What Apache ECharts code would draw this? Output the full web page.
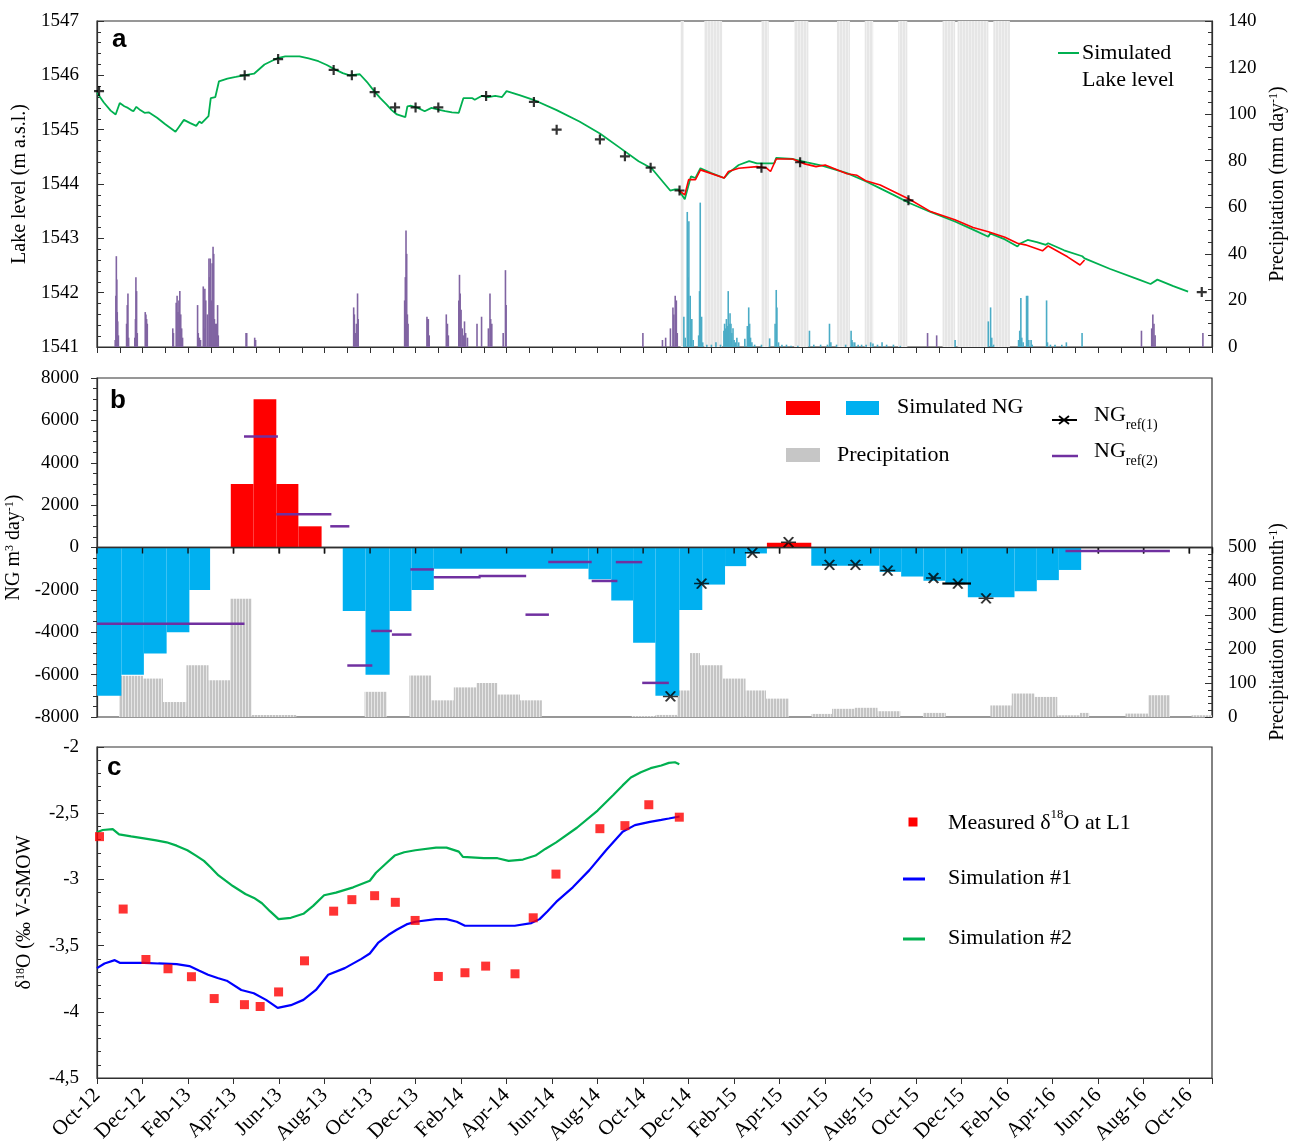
<!DOCTYPE html>
<html><head><meta charset="utf-8">
<script src="https://cdn.jsdelivr.net/npm/echarts@6/dist/echarts.min.js"></script>
<style>html,body{margin:0;padding:0;background:#fff}#c{width:1295px;height:1147px}</style>
</head><body><div id="c"></div>
<script>
// ---------- DATA (x in months since 1 Oct 2012) ----------
const xTickLabels = ['Oct-12','Dec-12','Feb-13','Apr-13','Jun-13','Aug-13','Oct-13','Dec-13','Feb-14','Apr-14','Jun-14','Aug-14','Oct-14','Dec-14','Feb-15','Apr-15','Jun-15','Aug-15','Oct-15','Dec-15','Feb-16','Apr-16','Jun-16','Aug-16','Oct-16'];

// panel a: simulated lake level (green)
const lakeSim = [[0,1545.68],[0.3,1545.5],[0.6,1545.35],[0.82,1545.28],[1.0,1545.49],[1.2,1545.43],[1.36,1545.4],[1.5,1545.36],[1.6,1545.34],[1.73,1545.42],[1.9,1545.36],[2.09,1545.31],[2.27,1545.32],[2.64,1545.22],[3.0,1545.1],[3.45,1544.96],[3.6,1545.05],[3.82,1545.18],[4.1,1545.12],[4.36,1545.07],[4.5,1545.15],[4.6,1545.12],[4.9,1545.25],[5.0,1545.58],[5.2,1545.6],[5.36,1545.89],[5.73,1545.94],[6.1,1545.97],[6.45,1546.0],[6.9,1546.03],[7.36,1546.2],[7.9,1546.31],[8.27,1546.35],[8.9,1546.35],[9.3,1546.31],[9.73,1546.26],[10.1,1546.19],[10.45,1546.11],[10.8,1546.04],[11.1,1546.0],[11.55,1546.02],[11.9,1545.86],[12.18,1545.71],[12.45,1545.58],[12.73,1545.46],[12.95,1545.36],[13.18,1545.28],[13.55,1545.23],[13.64,1545.43],[13.8,1545.44],[14.1,1545.4],[14.4,1545.34],[14.7,1545.4],[15.0,1545.37],[15.3,1545.34],[15.6,1545.32],[15.9,1545.31],[16.1,1545.58],[16.5,1545.58],[16.6,1545.55],[16.9,1545.62],[17.2,1545.6],[17.5,1545.62],[17.8,1545.6],[18.0,1545.71],[18.6,1545.63],[19.18,1545.55],[20.2,1545.36],[21.2,1545.15],[22.1,1544.93],[23.0,1544.66],[23.8,1544.42],[24.37,1544.29],[25.19,1543.88],[25.4,1543.9],[25.55,1543.9],[25.83,1543.72],[25.92,1543.86],[26.1,1544.14],[26.3,1544.11],[26.52,1544.29],[27.0,1544.2],[27.56,1544.11],[27.75,1544.2],[28.2,1544.35],[28.66,1544.42],[29.0,1544.38],[29.76,1544.38],[29.85,1544.48],[30.58,1544.46],[31.2,1544.4],[31.86,1544.34],[32.96,1544.2],[33.78,1544.05],[34.42,1543.92],[35.0,1543.8],[35.7,1543.65],[36.6,1543.49],[37.7,1543.31],[38.5,1543.16],[39.17,1543.03],[39.25,1543.09],[39.9,1542.98],[40.45,1542.85],[40.55,1542.9],[40.9,1542.97],[41.3,1542.93],[41.7,1542.88],[41.8,1542.91],[42.5,1542.78],[43.3,1542.67],[43.4,1542.63],[44.5,1542.44],[45.85,1542.23],[46.3,1542.16],[46.6,1542.24],[47.3,1542.12],[47.95,1542.02]];
// panel a: second simulated lake level (red)
const lakeSimRed = [[25.55,1543.89],[25.83,1543.8],[26.0,1544.08],[26.3,1544.08],[26.52,1544.26],[27.56,1544.11],[27.75,1544.23],[28.2,1544.29],[29.0,1544.32],[29.4,1544.3],[29.6,1544.23],[29.85,1544.46],[30.58,1544.46],[31.1,1544.37],[31.6,1544.32],[32.0,1544.35],[32.96,1544.19],[33.4,1544.16],[33.78,1544.06],[34.42,1543.98],[35.7,1543.72],[36.6,1543.5],[37.7,1543.34],[38.5,1543.2],[39.17,1543.12],[39.9,1543.02],[40.45,1542.91],[40.8,1542.88],[41.55,1542.77],[41.8,1542.86],[42.65,1542.66],[43.2,1542.51],[43.4,1542.6]];
// panel a: measured lake level (+)
const lakeObs = [[0.09,1545.71],[6.49,1546.0],[7.96,1546.3],[10.4,1546.1],[11.2,1546.0],[12.2,1545.69],[13.1,1545.41],[14.0,1545.41],[15.0,1545.41],[17.1,1545.62],[19.2,1545.51],[20.2,1545.0],[22.1,1544.82],[23.2,1544.51],[24.33,1544.3],[25.6,1543.88],[29.2,1544.3],[30.9,1544.4],[35.66,1543.7],[48.55,1542.01]];
// panel a: grey periods [start, end]
const greyPeriods = [[25.65,25.79],[26.69,27.47],[29.2,29.52],[30.64,31.26],[32.52,33.09],[33.74,34.11],[35.21,35.61],[37.16,37.71],[37.82,39.17],[39.39,40.12]];
// panel a: daily precipitation (mm/day), two station colours
const precipDailyPurple = [[0.80,3],[0.83,22],[0.85,39],[0.87,29],[0.89,15],[0.91,11],[0.94,5],[1.30,10],[1.33,18],[1.36,23],[1.39,4],[1.66,4],[1.69,12],[1.71,30],[1.74,24],[1.77,6],[2.12,15],[2.15,14],[2.18,12],[2.21,10],[3.33,8],[3.36,6],[3.48,19],[3.52,22],[3.56,15],[3.6,20],[3.64,24],[3.68,14],[3.72,8],[3.76,4],[4.42,18],[4.45,6],[4.5,4],[4.55,3],[4.67,26],[4.7,8],[4.74,25],[4.78,20],[4.85,14],[4.92,38],[4.95,30],[4.98,38],[5.02,20],[5.06,36],[5.1,43],[5.13,40],[5.16,12],[5.2,10],[5.26,10],[5.3,18],[5.33,5],[6.55,6],[6.58,6],[6.93,4],[6.97,3],[11.28,17],[11.31,14],[11.35,6],[11.4,10],[11.45,23],[11.48,12],[13.52,20],[13.55,30],[13.58,50],[13.61,40],[13.64,14],[13.67,10],[14.5,13],[14.53,12],[14.56,12],[14.6,5],[15.35,14],[15.4,10],[15.44,5],[15.9,20],[15.93,31],[15.96,23],[16.0,16],[16.05,8],[16.1,5],[16.15,11],[16.2,6],[16.28,4],[16.7,10],[16.9,13],[17.2,8],[17.27,23],[17.3,12],[17.35,10],[17.85,6],[17.95,33],[17.98,18],[23.99,6],[24.85,3],[24.99,4],[25.2,8],[25.31,17],[25.35,14],[25.41,22],[25.46,20],[25.5,6],[36.5,6],[36.9,5],[45.9,7],[46.35,8],[46.4,14],[46.45,10],[46.5,5],[48.6,6]];
const precipDailyCyan = [[25.79,13],[25.85,4],[25.94,58],[25.98,30],[26.01,54],[26.07,22],[26.14,12],[26.2,3],[26.44,5],[26.48,24],[26.51,62],[26.57,13],[26.62,2],[26.8,1],[27.0,1],[27.2,2],[27.4,1],[27.55,7],[27.58,10],[27.62,8],[27.66,12],[27.7,9],[27.74,24],[27.78,10],[27.82,14.5],[27.86,10],[27.9,6],[27.95,8],[28.0,3],[28.05,2],[28.12,4],[28.2,2],[28.47,3.5],[28.58,9],[28.64,17],[28.68,10],[28.72,4],[28.78,2],[28.9,1],[29.2,1],[29.56,3.7],[29.8,10],[29.85,24.5],[29.88,17],[29.95,2],[30.1,1],[30.3,1],[30.5,0.5],[30.8,0.5],[31.31,7],[31.5,1],[31.8,1],[32.1,1],[32.19,10],[32.25,2],[32.5,1],[32.9,1],[33.14,7],[33.18,3],[33.22,2],[33.3,2],[33.45,1],[33.6,1],[33.8,1],[34.0,2],[34.1,1.5],[34.3,1],[34.5,2],[34.7,1],[35.0,1],[35.3,0.5],[37.71,3],[39.17,11],[39.27,17],[39.32,4],[39.4,1],[40.5,3],[40.55,7],[40.6,21],[40.64,4],[40.7,2],[40.85,22],[40.9,22],[40.95,3],[41.05,3],[41.1,1],[41.73,20],[41.77,2],[41.9,1],[42.1,1],[42.4,1],[42.6,2],[43.29,6]];

// panel b: simulated NG [start, end, m3/day]
const ngSim = [[0,1.07,-7000],[1.07,2.06,-6000],[2.06,3.06,-5000],[3.06,4.06,-4000],[4.06,4.97,-2000],[5.88,6.88,3000],[6.88,7.88,7000],[7.88,8.85,3000],[8.85,9.87,1000],[10.8,11.8,-3000],[11.8,12.86,-6000],[12.86,13.82,-3000],[13.82,14.8,-2000],[14.8,21.6,-1000],[21.6,22.6,-1500],[22.6,23.56,-2500],[23.56,24.54,-4500],[24.54,25.59,-7000],[25.59,26.6,-2950],[26.6,27.6,-1750],[27.6,28.53,-880],[28.53,29.44,-280],[29.44,31.39,220],[31.39,34.39,-860],[34.39,35.34,-1150],[35.34,36.32,-1370],[36.32,37.28,-1570],[37.28,38.27,-1730],[38.27,40.32,-2350],[40.32,41.3,-2070],[41.3,42.27,-1540],[42.27,43.25,-1060]];
// panel b: monthly precipitation [start, end, mm/month]
const precipMonthly = [[0.97,2.02,121],[2.02,2.9,113],[2.9,3.93,44],[3.93,4.9,152],[4.9,5.85,108],[5.85,6.79,348],[6.79,8.76,6],[11.76,12.73,74],[13.73,14.68,122],[14.68,15.68,49],[15.68,16.68,87],[16.68,17.59,100],[17.59,18.59,66],[18.59,19.55,49],[23.5,24.54,3],[24.54,25.5,6],[25.5,26.06,78],[26.06,26.5,188],[26.5,27.5,152],[27.5,28.5,113],[28.5,29.4,78],[29.4,30.4,54],[31.4,32.3,9],[32.3,33.3,24],[33.3,34.3,27],[34.3,35.3,17],[36.3,37.3,12],[39.26,40.2,34],[40.2,41.2,69],[41.2,42.2,59],[42.2,43.2,5],[43.2,43.6,12],[45.2,46.2,10],[46.2,47.15,64],[48.1,49,5]];
// panel b: NG ref(1) estimates [month, value] and its duration bar
const ngRef1 = [[25.2,-7030],[26.57,-1700],[28.8,-250],[30.39,250],[32.19,-820],[33.33,-820],[34.75,-1090],[36.76,-1440],[37.83,-1700],[39.07,-2400]];
const ngRef1Bars = [[37.15,38.41,-1700]];
// panel b: NG ref(2) estimates [start, end, value]
const ngRef2 = [[0,6.48,-3600],[6.46,7.95,5240],[7.88,10.3,1570],[10.25,11.09,1000],[11.0,12.1,-5570],[12.05,12.96,-3940],[12.96,13.82,-4110],[13.77,14.8,-1035],[14.8,16.86,-1410],[16.77,18.86,-1350],[18.83,19.86,-3170],[19.83,21.74,-690],[21.74,22.87,-1580],[22.8,23.96,-690],[23.96,25.13,-6390],[42.56,47.15,-160]];

// panel c: delta18O
const sim1 = [[0,-3.67],[0.33,-3.635],[0.78,-3.61],[1.0,-3.63],[2.06,-3.63],[2.7,-3.635],[3.5,-3.64],[4.06,-3.655],[4.5,-3.69],[4.88,-3.72],[5.3,-3.745],[5.7,-3.765],[6.34,-3.835],[6.89,-3.86],[7.43,-3.91],[7.94,-3.97],[8.52,-3.95],[9.07,-3.91],[9.62,-3.835],[10.16,-3.72],[10.89,-3.67],[11.62,-3.6],[11.99,-3.56],[12.35,-3.48],[12.8,-3.42],[13.17,-3.38],[13.6,-3.34],[13.99,-3.32],[14.9,-3.30],[15.36,-3.30],[15.81,-3.32],[16.17,-3.35],[16.9,-3.35],[17.63,-3.35],[18.36,-3.35],[19.09,-3.33],[19.45,-3.30],[19.8,-3.24],[20.18,-3.17],[20.91,-3.06],[21.64,-2.93],[22.37,-2.78],[23.1,-2.64],[23.64,-2.59],[24.3,-2.565],[24.8,-2.55],[25.13,-2.54],[25.6,-2.525]];
const sim2 = [[0,-2.644],[0.25,-2.627],[0.69,-2.62],[0.97,-2.66],[1.5,-2.675],[2.06,-2.69],[2.6,-2.705],[3.06,-2.72],[3.5,-2.745],[3.97,-2.78],[4.35,-2.82],[4.7,-2.86],[5.0,-2.91],[5.34,-2.97],[5.65,-3.01],[5.97,-3.05],[6.52,-3.11],[6.9,-3.14],[7.25,-3.18],[7.6,-3.24],[7.98,-3.30],[8.52,-3.29],[9.07,-3.26],[9.5,-3.2],[9.98,-3.12],[10.5,-3.10],[11.26,-3.06],[11.99,-3.01],[12.26,-2.95],[12.7,-2.88],[13.08,-2.82],[13.5,-2.795],[13.99,-2.78],[14.9,-2.76],[15.36,-2.76],[15.9,-2.79],[16.08,-2.83],[17.0,-2.84],[17.6,-2.84],[18.09,-2.86],[18.72,-2.85],[19.27,-2.82],[19.7,-2.77],[20.18,-2.72],[21.09,-2.61],[22.0,-2.48],[22.7,-2.36],[23.1,-2.29],[23.46,-2.23],[23.9,-2.19],[24.33,-2.16],[24.8,-2.14],[25.13,-2.12],[25.4,-2.115],[25.59,-2.13]];
const measuredD18O = [[0.11,-2.677],[1.15,-3.224],[2.15,-3.605],[3.12,-3.675],[4.15,-3.735],[5.15,-3.90],[6.48,-3.946],[7.17,-3.96],[7.98,-3.85],[9.12,-3.615],[10.4,-3.24],[11.2,-3.153],[12.2,-3.123],[13.11,-3.173],[13.98,-3.31],[15.0,-3.733],[16.17,-3.705],[17.08,-3.655],[18.37,-3.713],[19.17,-3.29],[20.17,-2.96],[22.1,-2.617],[23.2,-2.594],[24.25,-2.436],[25.59,-2.53]];

// ---------- STYLE ----------
const SERIF = "'Liberation Serif','Times New Roman',serif";
const SANS = "'Liberation Sans',Arial,sans-serif";
const AX = '#303030';
const GREEN = '#00b050', RED = '#ff0000', BLUE_NG = '#00b0f0', PURPLE = '#7030a0';
const NG_TICK_STEP = 2, X_MAX = 49;

function pattern(c1, c2) {
  const cv = document.createElement('canvas'); cv.width = 3; cv.height = 4;
  const g = cv.getContext('2d'); g.fillStyle = c1; g.fillRect(0, 0, 3, 4); g.fillStyle = c2; g.fillRect(2, 0, 1, 4);
  return { image: cv, repeat: 'repeat' };
}
const greyFill = pattern('#c4c4c4', '#e6e6e6');
const bandFill = pattern('#e6e6e6', '#f0f0f0');

const L = 97, R = 83;
const tickLbl = { fontFamily: SERIF, fontSize: 19, color: '#000' };
const nameStyle = { fontFamily: SERIF, fontSize: 20, color: '#000', rich: { s: { fontFamily: SERIF, fontSize: 12, verticalAlign: 'top', color: '#000' } } };
const axLine = { show: true, onZero: false, lineStyle: { color: AX, width: 1.2 } };

function monthLabel(v) {
  const i = Math.round(v / 2);
  return (Math.abs(v - i * 2) < 1e-6 && xTickLabels[i]) ? xTickLabels[i] : '';
}

function rectBars(fillFn) {
  return function (params, api) {
    const x0 = api.value(0), x1 = api.value(1), v = api.value(2);
    const a = api.coord([x0, 0]), b = api.coord([x1, v]);
    return { type: 'rect', shape: { x: a[0], y: Math.min(a[1], b[1]), width: b[0] - a[0], height: Math.abs(b[1] - a[1]) }, style: { fill: fillFn(v) } };
  };
}
function dailyBars(color) {
  return function (params, api) {
    const x = api.value(0), v = api.value(1);
    const a = api.coord([x, 0]), b = api.coord([x, v]);
    return { type: 'rect', shape: { x: a[0] - 0.8, y: b[1], width: 1.6, height: a[1] - b[1] }, style: { fill: color } };
  };
}
function hSegments(color, width) {
  return function (params, api) {
    const a = api.coord([api.value(0), api.value(2)]), b = api.coord([api.value(1), api.value(2)]);
    return { type: 'line', shape: { x1: a[0], y1: a[1], x2: b[0], y2: b[1] }, style: { stroke: color, lineWidth: width } };
  };
}
// zero-line axis ticks of panel b, drawn on top of the bars through the axis scale
function zeroTicks(params, api) {
  const children = [];
  for (let m = 0; m <= X_MAX; m += NG_TICK_STEP) {
    const p = api.coord([m, 0]);
    children.push({ type: 'line', shape: { x1: p[0], y1: p[1], x2: p[0], y2: p[1] + 6 }, style: { stroke: '#111', lineWidth: 1.4 } });
  }
  const a = api.coord([0, 0]), b = api.coord([X_MAX, 0]);
  children.push({ type: 'line', shape: { x1: a[0], y1: a[1], x2: b[0], y2: b[1] }, style: { stroke: AX, lineWidth: 1.4 } });
  return { type: 'group', children };
}

const option = {
  backgroundColor: '#fff',
  animation: false,
  grid: [
    { left: L, right: R, top: 21, height: 326, show: true, borderColor: AX, borderWidth: 1.2, outerBoundsMode: 'none' },
    { left: L, right: R, top: 378, height: 339, show: true, borderColor: AX, borderWidth: 1.2, outerBoundsMode: 'none' },
    { left: L, right: R, top: 547, height: 170, show: false, outerBoundsMode: 'none' },
    { left: L, right: R, top: 747, height: 331, show: true, borderColor: AX, borderWidth: 1.2, outerBoundsMode: 'none' }
  ],
  xAxis: [
    { gridIndex: 0, type: 'value', min: 0, max: X_MAX, interval: 1, axisLine: axLine, axisTick: { length: 6, lineStyle: { color: AX } }, axisLabel: { show: false }, splitLine: { show: false } },
    { gridIndex: 1, type: 'value', min: 0, max: X_MAX, interval: NG_TICK_STEP, axisLine: { show: true, onZero: true, lineStyle: { color: AX, width: 1.4 } }, axisTick: { length: 6, lineStyle: { color: '#111', width: 1.4 } }, axisLabel: { show: false }, splitLine: { show: false } },
    { gridIndex: 2, type: 'value', min: 0, max: X_MAX, show: false },
    { gridIndex: 3, type: 'value', min: 0, max: X_MAX, interval: 2, axisLine: axLine, axisTick: { length: 6, lineStyle: { color: AX } }, axisLabel: Object.assign({}, tickLbl, { rotate: 45, margin: 14, fontSize: 21, formatter: monthLabel }), splitLine: { show: false } }
  ],
  yAxis: [
    { gridIndex: 0, type: 'value', min: 1541, max: 1547, interval: 1, axisLine: axLine, axisTick: { inside: true, length: 7, lineStyle: { color: AX } }, minorTick: { show: true, splitNumber: 5, length: 4, lineStyle: { color: AX } }, axisLabel: Object.assign({ margin: 18, formatter: v => String(v) }, tickLbl), splitLine: { show: false },
      name: 'Lake level (m a.s.l.)', nameLocation: 'middle', nameRotate: 90, nameGap: 64, nameTextStyle: nameStyle },
    { gridIndex: 0, type: 'value', position: 'right', min: 0, max: 140, interval: 20, axisLine: axLine, axisTick: { inside: true, length: 7, lineStyle: { color: AX } }, minorTick: { show: true, splitNumber: 4, length: 4, lineStyle: { color: AX } }, axisLabel: Object.assign({ margin: 16, formatter: v => String(v) }, tickLbl), splitLine: { show: false },
      name: 'Precipitation (mm day{s|-1})', nameLocation: 'middle', nameRotate: 90, nameGap: 54, nameTextStyle: nameStyle },
    { gridIndex: 1, type: 'value', min: -8000, max: 8000, interval: 2000, axisLine: axLine, axisTick: { length: 6, lineStyle: { color: AX } }, minorTick: { show: true, splitNumber: 4, length: 4, lineStyle: { color: AX } }, axisLabel: Object.assign({ margin: 18, formatter: v => String(v) }, tickLbl), splitLine: { show: false },
      name: 'NG m{s|3} day{s|-1})', nameLocation: 'middle', nameRotate: 90, nameGap: 67, nameTextStyle: nameStyle },
    { gridIndex: 2, type: 'value', position: 'right', min: 0, max: 500, interval: 100, axisLine: axLine, axisTick: { inside: true, length: 7, lineStyle: { color: AX } }, minorTick: { show: true, splitNumber: 5, length: 4, lineStyle: { color: AX } }, axisLabel: Object.assign({ margin: 16, formatter: v => String(v) }, tickLbl), splitLine: { show: false },
      name: 'Precipitation (mm month{s|-1})', nameLocation: 'middle', nameRotate: 90, nameGap: 54, nameTextStyle: nameStyle },
    { gridIndex: 3, type: 'value', min: -4.5, max: -2, interval: 0.5, axisLine: axLine, axisTick: { inside: true, length: 7, lineStyle: { color: AX } }, minorTick: { show: true, splitNumber: 5, length: 4, lineStyle: { color: AX } }, axisLabel: Object.assign({ margin: 18, formatter: v => String(v).replace('.', ',') }, tickLbl), splitLine: { show: false },
      name: 'δ{s|18}O (‰ V-SMOW', nameLocation: 'middle', nameRotate: 90, nameGap: 62, nameTextStyle: nameStyle }
  ],
  series: [
    // panel a
    { type: 'custom', xAxisIndex: 0, yAxisIndex: 0, z: 1, silent: true, data: greyPeriods, encode: { x: [0, 1] },
      renderItem: (p, api) => { const a = api.coord([api.value(0), 1547]), b = api.coord([api.value(1), 1541]);
        return { type: 'rect', shape: { x: a[0], y: a[1], width: b[0] - a[0], height: b[1] - a[1] }, style: { fill: bandFill } }; } },
    { type: 'custom', xAxisIndex: 0, yAxisIndex: 1, z: 2, silent: true, data: precipDailyPurple, encode: { x: 0, y: 1 }, renderItem: dailyBars('#8064a2') },
    { type: 'custom', xAxisIndex: 0, yAxisIndex: 1, z: 2, silent: true, data: precipDailyCyan, encode: { x: 0, y: 1 }, renderItem: dailyBars('#4bacc6') },
    { type: 'line', xAxisIndex: 0, yAxisIndex: 0, z: 3, data: lakeSim, showSymbol: false, lineStyle: { color: GREEN, width: 1.8 } },
    { type: 'line', xAxisIndex: 0, yAxisIndex: 0, z: 4, data: lakeSimRed, showSymbol: false, lineStyle: { color: RED, width: 1.6 } },
    { type: 'scatter', xAxisIndex: 0, yAxisIndex: 0, z: 5, data: lakeObs, symbol: 'path://M5,0L5,10M0,5L10,5', symbolSize: 10,
      itemStyle: { color: 'rgba(0,0,0,0)', borderColor: '#000', borderWidth: 2.2 } },
    // panel b
    { type: 'custom', xAxisIndex: 2, yAxisIndex: 3, z: 1, silent: true, data: precipMonthly, encode: { x: [0, 1], y: 2 }, renderItem: rectBars(() => greyFill) },
    { type: 'custom', xAxisIndex: 1, yAxisIndex: 2, z: 2, silent: true, data: ngSim, encode: { x: [0, 1], y: 2 }, renderItem: rectBars(v => v > 0 ? RED : BLUE_NG) },
    { type: 'custom', xAxisIndex: 1, yAxisIndex: 2, z: 3, silent: true, data: [[0]], encode: { x: 0 }, clip: false, renderItem: zeroTicks },
    { type: 'custom', xAxisIndex: 1, yAxisIndex: 2, z: 4, silent: true, data: ngRef2, encode: { x: [0, 1], y: 2 }, renderItem: hSegments(PURPLE, 2.5) },
    { type: 'custom', xAxisIndex: 1, yAxisIndex: 2, z: 5, silent: true, data: ngRef1Bars, encode: { x: [0, 1], y: 2 }, renderItem: hSegments('#000', 2.2) },
    { type: 'scatter', xAxisIndex: 1, yAxisIndex: 2, z: 6, data: ngRef1, symbol: 'path://M0,0L10,10M10,0L0,10M-3,5L13,5', symbolSize: [15, 10],
      itemStyle: { color: 'rgba(0,0,0,0)', borderColor: '#000', borderWidth: 1.8 } },
    // panel c
    { type: 'line', xAxisIndex: 3, yAxisIndex: 4, z: 3, data: sim2, showSymbol: false, lineStyle: { color: GREEN, width: 2.2 } },
    { type: 'line', xAxisIndex: 3, yAxisIndex: 4, z: 3, data: sim1, showSymbol: false, lineStyle: { color: '#0000ff', width: 2.2 } },
    { type: 'scatter', xAxisIndex: 3, yAxisIndex: 4, z: 4, data: measuredD18O, symbol: 'rect', symbolSize: 9, itemStyle: { color: RED } }
  ],
  graphic: [
    // panel letters
    { type: 'text', x: 112, y: 40, z: 10, style: { text: 'a', font: 'bold 26px ' + SANS, fill: '#000', verticalAlign: 'middle' } },
    { type: 'text', x: 110, y: 401, z: 10, style: { text: 'b', font: 'bold 26px ' + SANS, fill: '#000', verticalAlign: 'middle' } },
    { type: 'text', x: 107, y: 768, z: 10, style: { text: 'c', font: 'bold 26px ' + SANS, fill: '#000', verticalAlign: 'middle' } },
    // panel a legend
    { type: 'line', z: 10, shape: { x1: 1058, y1: 53, x2: 1079, y2: 53 }, style: { stroke: GREEN, lineWidth: 2 } },
    { type: 'text', x: 1082, y: 53, z: 10, style: { text: 'Simulated', font: '22px ' + SERIF, fill: '#000', verticalAlign: 'middle' } },
    { type: 'text', x: 1082, y: 80, z: 10, style: { text: 'Lake level', font: '22px ' + SERIF, fill: '#000', verticalAlign: 'middle' } },
    // panel b legend
    { type: 'rect', z: 10, shape: { x: 786, y: 401, width: 34, height: 14 }, style: { fill: RED } },
    { type: 'rect', z: 10, shape: { x: 846, y: 401, width: 33, height: 14 }, style: { fill: BLUE_NG } },
    { type: 'text', x: 897, y: 407, z: 10, style: { text: 'Simulated NG', font: '22px ' + SERIF, fill: '#000', verticalAlign: 'middle' } },
    { type: 'rect', z: 10, shape: { x: 786, y: 448, width: 34, height: 14 }, style: { fill: '#c6c6c6' } },
    { type: 'text', x: 837, y: 455, z: 10, style: { text: 'Precipitation', font: '22px ' + SERIF, fill: '#000', verticalAlign: 'middle' } },
    { type: 'line', z: 10, shape: { x1: 1052, y1: 420, x2: 1077, y2: 420 }, style: { stroke: '#000', lineWidth: 2 } },
    { type: 'line', z: 10, shape: { x1: 1059, y1: 416, x2: 1069, y2: 424 }, style: { stroke: '#000', lineWidth: 1.8 } },
    { type: 'line', z: 10, shape: { x1: 1069, y1: 416, x2: 1059, y2: 424 }, style: { stroke: '#000', lineWidth: 1.8 } },
    { type: 'text', x: 1094, y: 418, z: 10, style: { text: '{n|NG}{b|ref(1)}', fill: '#000', verticalAlign: 'middle',
      rich: { n: { fontFamily: SERIF, fontSize: 22, lineHeight: 28, verticalAlign: 'top' }, b: { fontFamily: SERIF, fontSize: 14, lineHeight: 14, verticalAlign: 'bottom' } } } },
    { type: 'line', z: 10, shape: { x1: 1052, y1: 456, x2: 1078, y2: 456 }, style: { stroke: PURPLE, lineWidth: 2.5 } },
    { type: 'text', x: 1094, y: 454, z: 10, style: { text: '{n|NG}{b|ref(2)}', fill: '#000', verticalAlign: 'middle',
      rich: { n: { fontFamily: SERIF, fontSize: 22, lineHeight: 28, verticalAlign: 'top' }, b: { fontFamily: SERIF, fontSize: 14, lineHeight: 14, verticalAlign: 'bottom' } } } },
    // panel c legend
    { type: 'rect', z: 10, shape: { x: 908.5, y: 817.5, width: 9, height: 9 }, style: { fill: RED } },
    { type: 'text', x: 948, y: 821, z: 10, style: { text: '{n|Measured δ}{s|18}{n|O at L1}', fill: '#000', verticalAlign: 'middle',
      rich: { n: { fontFamily: SERIF, fontSize: 22, lineHeight: 26, verticalAlign: 'bottom' }, s: { fontFamily: SERIF, fontSize: 13, lineHeight: 13, verticalAlign: 'top' } } } },
    { type: 'line', z: 10, shape: { x1: 903, y1: 879, x2: 925, y2: 879 }, style: { stroke: '#0000ff', lineWidth: 3 } },
    { type: 'text', x: 948, y: 878, z: 10, style: { text: 'Simulation #1', font: '22px ' + SERIF, fill: '#000', verticalAlign: 'middle' } },
    { type: 'line', z: 10, shape: { x1: 903, y1: 939, x2: 925, y2: 939 }, style: { stroke: GREEN, lineWidth: 3 } },
    { type: 'text', x: 948, y: 938, z: 10, style: { text: 'Simulation #2', font: '22px ' + SERIF, fill: '#000', verticalAlign: 'middle' } }
  ]
};
const chart = echarts.init(document.getElementById('c'));
chart.setOption(option);
</script>
</body></html>
